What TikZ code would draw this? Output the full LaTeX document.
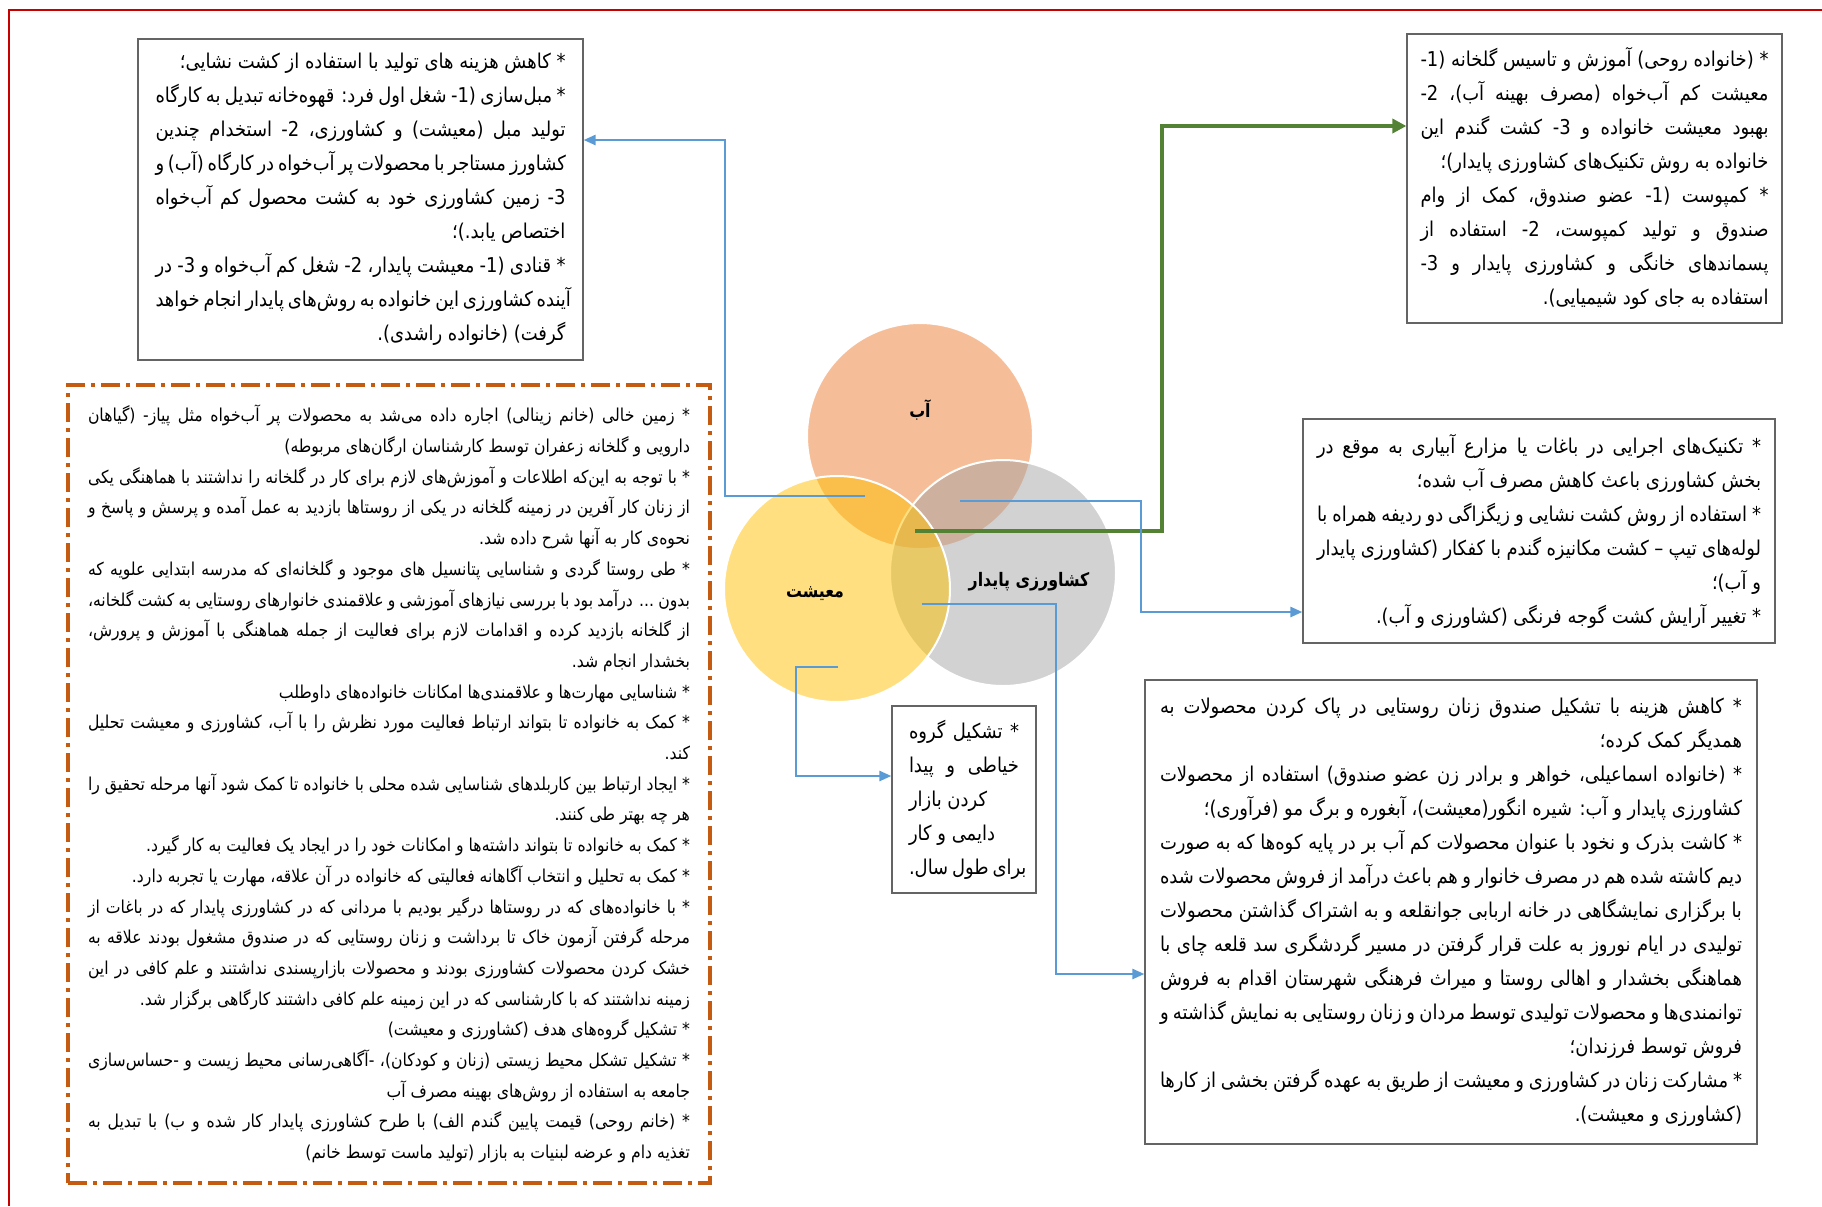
\documentclass[tikz,border=0pt]{standalone}
\usepackage{fontspec}
\newfontfamily\fa[Script=Arabic, FakeStretch=0.88]{DejaVu Sans}
\newfontfamily\fab[Script=Arabic, FakeStretch=0.85]{DejaVu Sans Bold}
\TeXXeTstate=1
\usetikzlibrary{arrows.meta}

\definecolor{marcorojo}{RGB}{200,0,0}
\definecolor{azul}{RGB}{91,155,213}
\definecolor{verde}{RGB}{84,130,53}
\definecolor{cafe}{RGB}{197,90,17}
\definecolor{gris}{RGB}{100,100,100}
\definecolor{vnaranja}{RGB}{237,125,49}
\definecolor{vamarillo}{RGB}{255,192,0}
\definecolor{vgris}{RGB}{165,165,165}

% lineas de texto de derecha a izquierda
\newcommand\jl[1]{\hbox to\hsize{\beginR #1\endR}}
\newcommand\rl[1]{\hbox to\hsize{\hfil\beginR #1\endR}}
\newcommand\lfl[1]{\hbox to\hsize{\beginR #1\endR\hfil}}
\newcommand\txtblock[2]{\vbox{\hsize=#1\relax #2}}

\tikzset{
  redframe/.style={draw=marcorojo, line width=1.3pt},
  txtbox/.style={draw=gris, line width=0.6pt, inner sep=0pt, font=\fa\fontsize{10.2}{17}\selectfont},
  dashbox/.style={draw=cafe, line width=1.6pt, inner sep=0pt,
    dash pattern=on 9.5pt off 3pt on 2pt off 3pt, font=\fa\fontsize{8.9}{15.35}\selectfont},
  venn/.style={circle, minimum size=113pt, inner sep=0pt, fill opacity=0.5, draw=white, line width=1pt},
  vlabel/.style={font=\fab\fontsize{9.3}{11}\selectfont, inner sep=0pt},
  conn/.style={draw=azul, line width=1.25pt, -{Triangle[length=6pt,width=5pt]}},
  greenconn/.style={draw=verde, line width=2.2pt, -{Triangle[length=7pt,width=7pt]}},
}

\begin{document}
\begin{tikzpicture}[x=0.5pt,y=-0.5pt]
    \useasboundingbox (0,0) rectangle (1822,1206);

    % Marco
    \draw[redframe] (1822,10) -- (9,10) -- (9,1206);

    % Circulos
    \node[venn, fill=vnaranja] (ab) at (920,436) {};
    \node[venn, fill=vgris] (keshavarzi) at (1003,573) {};
    \node[venn, fill=vamarillo] (maishat) at (837,589) {};

    % Etiquetas de los circulos
    \node[vlabel] (abl) at (920,410) {\beginR آب\endR};
    \node[vlabel] (maishatl) at (815,594) {\beginR معیشت\endR};
    \node[vlabel] (keshavarzil) at (1029,582) {\beginR کشاورزی پایدار\endR};

    % Caja superior izquierda
    \node[txtbox, minimum width=222.5pt, minimum height=160.5pt] (tl) at (360.5,199.5) {\txtblock{205pt}{%
      \rl{* کاهش هزینه های تولید با استفاده از  کشت نشایی؛}
      \jl{* مبل‌سازی (1- شغل اول فرد: قهوه‌خانه تبدیل به کارگاه}
      \jl{تولید مبل (معیشت) و کشاورزی، 2- استخدام چندین}
      \jl{کشاورز مستاجر با محصولات پر آب‌خواه در کارگاه (آب) و}
      \jl{3- زمین کشاورزی خود به کشت محصول کم آب‌خواه}
      \rl{اختصاص یابد.)؛}
      \jl{* قنادی (1- معیشت پایدار، 2- شغل کم آب‌خواه و 3- در}
      \jl{آینده کشاورزی این خانواده به روش‌های پایدار انجام خواهد}
      \rl{گرفت) (خانواده راشدی).}}};

    % Caja superior derecha
    \node[txtbox, minimum width=187.5pt, minimum height=144.5pt] (tr) at (1594.5,178.5) {\txtblock{174pt}{%
      \jl{* (خانواده روحی) آموزش و تاسیس  گلخانه (1-}
      \jl{معیشت کم آب‌خواه (مصرف بهینه آب)، 2-}
      \jl{بهبود معیشت خانواده و 3- کشت گندم این}
      \rl{خانواده به روش تکنیک‌های کشاورزی پایدار)؛}
      \jl{* کمپوست (1- عضو صندوق، کمک از وام}
      \jl{صندوق و تولید کمپوست، 2- استفاده از}
      \jl{پسماندهای خانگی و کشاورزی پایدار و 3-}
      \rl{استفاده به جای کود شیمیایی).}}};

    % Caja media derecha
    \node[txtbox, minimum width=236pt, minimum height=112pt] (mr) at (1539,531) {\txtblock{222pt}{%
      \jl{* تکنیک‌های اجرایی در باغات یا مزارع آبیاری به موقع در}
      \rl{بخش کشاورزی باعث کاهش مصرف آب شده؛}
      \jl{* استفاده از روش کشت نشایی و زیگزاگی دو ردیفه همراه با}
      \jl{لوله‌های تیپ – کشت مکانیزه گندم با کفکار (کشاورزی پایدار}
      \rl{و آب)؛}
      \rl{* تغییر آرایش کشت گوجه فرنگی (کشاورزی و آب).}}};

    % Caja inferior derecha
    \node[txtbox, minimum width=306pt, minimum height=232pt] (br) at (1451,912) {\txtblock{291pt}{%
      \jl{* کاهش هزینه با تشکیل صندوق زنان روستایی در پاک کردن محصولات به}
      \rl{همدیگر کمک کرده؛}
      \jl{* (خانواده اسماعیلی، خواهر و برادر زن عضو صندوق) استفاده از محصولات}
      \rl{کشاورزی پایدار و آب: شیره انگور(معیشت)، آبغوره و برگ مو (فرآوری)؛}
      \jl{* کاشت بذرک و نخود با عنوان محصولات کم آب بر در پایه کوه‌ها که به صورت}
      \jl{دیم کاشته شده هم در مصرف خانوار و هم باعث درآمد از فروش محصولات شده}
      \jl{با برگزاری نمایشگاهی در خانه اربابی جوانقلعه و به اشتراک گذاشتن محصولات}
      \jl{تولیدی در ایام نوروز به علت قرار گرفتن در مسیر گردشگری سد قلعه چای با}
      \jl{هماهنگی بخشدار و اهالی روستا و میراث فرهنگی شهرستان اقدام به فروش}
      \jl{توانمندی‌ها و محصولات تولیدی توسط مردان و زنان روستایی به نمایش گذاشته و}
      \rl{فروش توسط  فرزندان؛}
      \jl{* مشارکت زنان در کشاورزی و معیشت از طریق به عهده گرفتن بخشی از کارها}
      \rl{(کشاورزی و معیشت).}}};

    % Caja pequena
    \node[txtbox, minimum width=72pt, minimum height=93.5pt] (sb) at (964,799.5) {\txtblock{55pt}{%
      \jl{* تشکیل گروه}
      \jl{خیاطی و پیدا}
      \lfl{کردن بازار}
      \lfl{دایمی و کار}
      \lfl{برای طول سال.}}};

    % Caja punteada izquierda
    \node[dashbox, minimum width=321pt, minimum height=399pt] (ld) at (389,784) {\txtblock{301pt}{%
      \jl{* زمین خالی (خانم زینالی) اجاره داده می‌شد به محصولات پر آب‌خواه مثل پیاز- (گیاهان}
      \rl{دارویی و گلخانه زعفران توسط کارشناسان ارگان‌های مربوطه)}
      \jl{* با توجه به این‌که اطلاعات و آموزش‌های لازم برای کار در گلخانه را نداشتند با هماهنگی یکی}
      \jl{از زنان کار آفرین در زمینه گلخانه در یکی از روستاها بازدید به عمل آمده و پرسش و پاسخ و}
      \rl{نحوه‌ی کار به آنها شرح داده شد.}
      \jl{* طی روستا گردی و شناسایی پتانسیل های موجود و گلخانه‌ای که مدرسه ابتدایی علویه که}
      \jl{بدون ... درآمد بود با بررسی نیازهای آموزشی و علاقمندی خانوارهای روستایی به کشت گلخانه،}
      \jl{از گلخانه بازدید کرده و اقدامات لازم برای فعالیت از جمله هماهنگی با آموزش و پرورش،}
      \rl{بخشدار انجام شد.}
      \rl{* شناسایی مهارت‌ها و علاقمندی‌ها امکانات خانواده‌های داوطلب}
      \jl{* کمک به خانواده تا بتواند ارتباط فعالیت مورد نظرش را با آب، کشاورزی و معیشت تحلیل}
      \rl{کند.}
      \jl{* ایجاد ارتباط بین کاربلدهای شناسایی شده محلی با خانواده تا کمک شود آنها مرحله تحقیق را}
      \rl{هر چه بهتر طی کنند.}
      \rl{* کمک به خانواده تا بتواند داشته‌ها و امکانات خود را در ایجاد یک فعالیت به کار گیرد.}
      \rl{* کمک به تحلیل و انتخاب آگاهانه فعالیتی که خانواده در آن علاقه، مهارت یا تجربه دارد.}
      \jl{* با خانواده‌های که در روستاها درگیر بودیم با مردانی که در کشاورزی پایدار که در باغات از}
      \jl{مرحله گرفتن آزمون خاک تا برداشت و زنان روستایی که در صندوق مشغول بودند علاقه به}
      \jl{خشک کردن محصولات کشاورزی بودند و محصولات بازارپسندی نداشتند و علم کافی در این}
      \rl{زمینه نداشتند که با کارشناسی که در این زمینه علم کافی داشتند کارگاهی برگزار شد.}
      \rl{* تشکیل گروه‌های هدف (کشاورزی و معیشت)}
      \jl{* تشکیل تشکل محیط زیستی (زنان و کودکان)، -آگاهی‌رسانی محیط زیست و -حساس‌سازی}
      \rl{جامعه به استفاده از روش‌های بهینه مصرف آب}
      \jl{* (خانم روحی) قیمت پایین گندم الف) با طرح کشاورزی پایدار کار شده و ب) با تبدیل به}
      \rl{تغذیه دام و عرضه لبنیات به بازار (تولید ماست توسط خانم)}}};

    % Puntos de salida y quiebres
    \coordinate (ay) at (865,496);
    \coordinate (ctr) at (915,531);
    \coordinate (og) at (960,501);
    \coordinate (yg) at (922,604);
    \coordinate (ye) at (838,667);
    \coordinate (k1) at (725,140);
    \coordinate (k2) at (1162,126);
    \coordinate (k3) at (1141,612);
    \coordinate (k4) at (1056,974);
    \coordinate (k5) at (796,776);

    % Conectores
    \draw[conn] (ay) -- (ay -| k1) |- (tl.east |- k1);
    \draw[greenconn] (ctr) -- (ctr -| k2) |- (tr.west |- k2);
    \draw[conn] (og) -- (og -| k3) |- (mr.west |- k3);
    \draw[conn] (yg) -- (yg -| k4) |- (br.west |- k4);
    \draw[conn] (ye) -- (ye -| k5) |- (sb.west |- k5);
\end{tikzpicture}
\end{document}
